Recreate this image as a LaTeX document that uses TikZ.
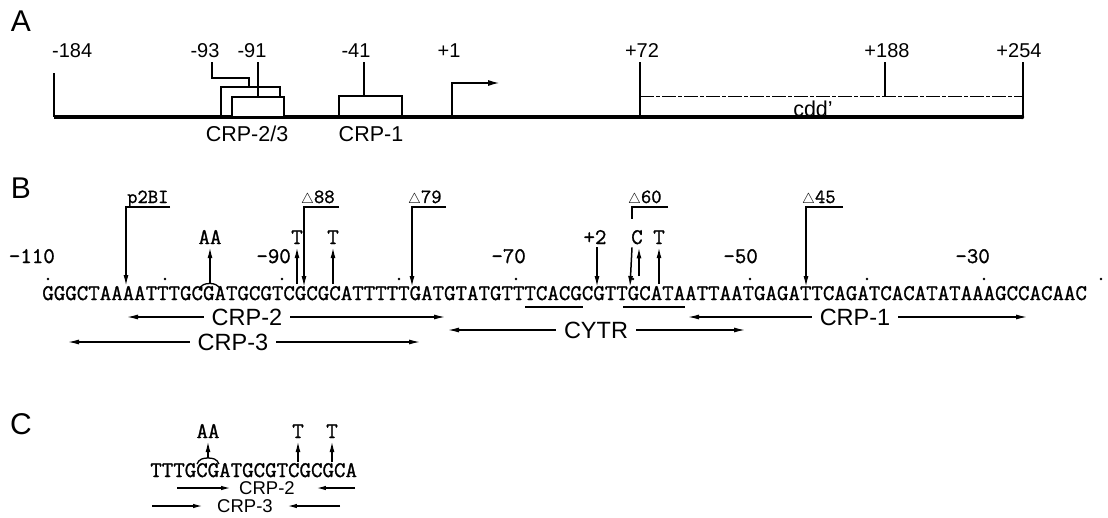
\documentclass[tikz,border=0pt]{standalone}
\usepackage{fontspec}
\setsansfont{Liberation Sans}
\setmonofont{Latin Modern Mono}[FakeBold=1.2]
\usetikzlibrary{arrows.meta}

\newcommand{\seqfont}{\ttfamily\fontsize{22.29}{24}\selectfont}
\newcommand{\labfont}{\ttfamily\fontsize{20}{22}\selectfont}
\newcommand{\dtri}{{\fontsize{14}{14}\selectfont$\triangle$}}

\begin{document}
\begin{tikzpicture}[x=1pt, y=-1pt, >={Latex[length=11pt,width=5pt]}]
        \tikzstyle{panel} = [font=\sffamily\fontsize{30}{32}\selectfont, inner sep=0pt]
        \tikzstyle{numA} = [font=\sffamily\fontsize{20}{22}\selectfont, inner sep=0pt, anchor=base]
        \tikzstyle{nameA} = [font=\sffamily\fontsize{21.5}{24}\selectfont, inner sep=0pt, anchor=base]
        \tikzstyle{tickline} = [line width=1.3pt]
        \tikzstyle{seqtext} = [font=\seqfont, inner sep=0pt, anchor=base west]
        \tikzstyle{numB} = [font=\seqfont, inner sep=0pt, anchor=base east]
        \tikzstyle{mut} = [font=\seqfont, inner xsep=0pt, inner ysep=3pt, anchor=base]
        \tikzstyle{dellab} = [font=\labfont, inner sep=0pt, anchor=base west]
        \tikzstyle{sitelabel} = [font=\sffamily\fontsize{23.5}{26}\selectfont, inner xsep=8pt, inner ysep=0pt]
        \tikzstyle{sitelabelC} = [font=\sffamily\fontsize{18.5}{20}\selectfont, inner xsep=9pt, inner ysep=0pt]
        \tikzstyle{arr} = [->, line width=1.5pt]
        \tikzstyle{rangearr} = [->, line width=1.2pt]
        \tikzstyle{rangearrC} = [-{Latex[length=9pt,width=4.5pt]}, line width=1.1pt]

        \useasboundingbox (0,0) rectangle (1108,517);

        % A
        \node[panel] (pA) at (21,21) {A};
        \draw[line width=4pt] (54,117) -- (1023,117);
        \fill (1022,117) circle (2.2pt);
        \draw[tickline] (54,73) -- (54,117);
        \node[numA, anchor=base west] (l184) at (52,57) {-184};
        \draw[tickline] (212,62) -- (212,78) -- (249,78) -- (249,87);
        \node[numA] (l93) at (205,57) {-93};
        \draw[tickline] (221,117) -- (221,87) -- (280,87) -- (280,97);
        \draw[tickline, fill=white] (232,117) rectangle (284,97);
        \draw[tickline] (258,62) -- (258,97);
        \node[numA] (l91) at (252,57) {-91};
        \node[nameA] (crp23) at (247,141) {CRP-2/3};
        \draw[tickline] (339,117) rectangle (402,96);
        \draw[tickline] (364,62) -- (364,96);
        \node[numA] (l41) at (356,57) {-41};
        \node[nameA] (crp1) at (371,141) {CRP-1};
        \coordinate (p1) at (452,117);
        \coordinate (p1t) at (499,83);
        \draw[line width=1.1pt, -{Latex[length=11pt,width=6pt]}] (p1) |- (p1t);
        \node[numA] (l1) at (449,57) {+1};
        \draw[tickline] (640,62) -- (640,117);
        \node[numA] (l72) at (642,57) {+72};
        \draw[line width=1pt, dash pattern=on 14pt off 2pt on 4pt off 2pt] (640,96) -- (1023,96);
        \draw[tickline] (885,62) -- (885,96);
        \node[numA] (l188) at (887,57) {+188};
        \draw[tickline] (1023,62) -- (1023,117);
        \node[numA] (l254) at (1019,57) {+254};
        \node[nameA] (cdd) at (813,116) {cdd'};

        % B
        \node[panel] (pB) at (21,188) {B};
        \node[seqtext] (seqB) at (42.15,300) {GGGCTAAAATTTGCGATGCGTCGCGCATTTTTGATGTATGTTTCACGCGTTGCATAATTAATGAGATTCAGATCACATATAAAGCCACAAC};
        \foreach \k in {0,...,9} \fill ({48+117*\k},279) circle (1.3pt);
        \node[numB] (n110) at (55,263) {-110};
        \node[numB] (n90) at (291,263) {-90};
        \node[numB] (n70) at (526,263) {-70};
        \node[numB] (n50) at (758,263) {-50};
        \node[numB] (n30) at (990,263) {-30};

        \node[dellab] (dp2) at (127,203) {p2BI};
        \coordinate (dp2u) at (170,207);
        \coordinate (dp2t) at (126,286);
        \draw[arr] (dp2u) -| (dp2t);
        \node[dellab] (d88) at (301,203) {\dtri88};
        \coordinate (d88u) at (339,207);
        \coordinate (d88t) at (304,287);
        \draw[arr] (d88u) -| (d88t);
        \node[dellab] (d79) at (408,203) {\dtri79};
        \coordinate (d79u) at (446,207);
        \coordinate (d79t) at (412,287);
        \draw[arr] (d79u) -| (d79t);
        \node[dellab] (d60) at (628,203) {\dtri60};
        \coordinate (d60u) at (668,207);
        \coordinate (d60t) at (632,219);
        \draw[line width=1.5pt] (d60u) -| (d60t);
        \node[dellab] (d45) at (802,203) {\dtri45};
        \coordinate (d45u) at (843,207);
        \coordinate (d45t) at (806,287);
        \draw[arr] (d45u) -| (d45t);

        \node[mut] (mAA) at (210,244) {AA};
        \coordinate (mAAb) at (210,283.5);
        \draw[line width=1.3pt] (199,290) .. controls (201,284.5) and (205,283.5) .. (mAAb) .. controls (214,283.5) and (218,284.5) .. (221,290);
        \draw[arr] (mAAb) -- (mAA.south);
        \node[mut] (mT1) at (297,244) {T};
        \coordinate (mT1b) at (297,284);
        \draw[arr] (mT1b) -- (mT1.south);
        \node[mut] (mT2) at (333,244) {T};
        \coordinate (mT2b) at (333,284);
        \draw[arr] (mT2b) -- (mT2.south);
        \node[mut] (m2) at (595,244) {+2};
        \coordinate (m2t) at (597,287);
        \draw[arr] ([xshift=2pt]m2.south) -- (m2t);
        \node[mut] (mC) at (637,244) {C};
        \coordinate (mCt) at (630,287);
        \coordinate (mCb) at (639,276);
        \draw[arr] ([xshift=-5pt]mC.south) -- (mCt);
        \draw[arr] (mCb) -- ([xshift=2pt]mC.south);
        \node[mut] (mT3) at (659,244) {T};
        \coordinate (mT3b) at (659,284);
        \draw[arr] (mT3b) -- (mT3.south);

        \draw[line width=1.4pt] (525,307) -- (583,307);
        \draw[line width=1.4pt] (623,307) -- (685,307);

        \node[sitelabel] (sCRP2) at (247,317) {CRP-2};
        \coordinate (sCRP2l) at (127,317);
        \coordinate (sCRP2r) at (445,317);
        \draw[rangearr] (sCRP2.west) -- (sCRP2l);
        \draw[rangearr] (sCRP2.east) -- (sCRP2r);
        \node[sitelabel] (sCRP3) at (233,342) {CRP-3};
        \coordinate (sCRP3l) at (68,342);
        \coordinate (sCRP3r) at (420,342);
        \draw[rangearr] (sCRP3.west) -- (sCRP3l);
        \draw[rangearr] (sCRP3.east) -- (sCRP3r);
        \node[sitelabel] (sCYTR) at (596,330) {CYTR};
        \coordinate (sCYTRl) at (448,330);
        \coordinate (sCYTRr) at (745,330);
        \draw[rangearr] (sCYTR.west) -- (sCYTRl);
        \draw[rangearr] (sCYTR.east) -- (sCYTRr);
        \node[sitelabel] (sCRP1) at (855,317) {CRP-1};
        \coordinate (sCRP1l) at (688,317);
        \coordinate (sCRP1r) at (1027,317);
        \draw[rangearr] (sCRP1.west) -- (sCRP1l);
        \draw[rangearr] (sCRP1.east) -- (sCRP1r);

        % C
        \node[panel] (pC) at (21,424) {C};
        \node[seqtext] (seqC) at (150.15,477) {TTTGCGATGCGTCGCGCA};
        \node[mut] (cAA) at (208,438) {AA};
        \coordinate (cAAb) at (208,458);
        \draw[line width=1.3pt] (197,464) .. controls (199,459) and (203,458) .. (cAAb) .. controls (213,458) and (217,459) .. (219,464);
        \draw[arr] (cAAb) -- (cAA.south);
        \node[mut] (cT1) at (298,438) {T};
        \coordinate (cT1b) at (298,462);
        \draw[arr] (cT1b) -- (cT1.south);
        \node[mut] (cT2) at (332,438) {T};
        \coordinate (cT2b) at (332,462);
        \draw[arr] (cT2b) -- (cT2.south);

        \node[sitelabelC] (cCRP2) at (267,488) {CRP-2};
        \coordinate (cCRP2l) at (177,488);
        \coordinate (cCRP2r) at (355,488);
        \draw[rangearrC] (cCRP2l) -- (cCRP2.west);
        \draw[rangearrC, shorten >=13pt] (cCRP2r) -- (cCRP2.east);
        \node[sitelabelC] (cCRP3) at (245,506) {CRP-3};
        \coordinate (cCRP3l) at (152,506);
        \coordinate (cCRP3r) at (340,506);
        \draw[rangearrC, shorten >=6pt] (cCRP3l) -- (cCRP3.west);
        \draw[rangearrC, shorten >=6pt] (cCRP3r) -- (cCRP3.east);
    \end{tikzpicture}
\end{document}
